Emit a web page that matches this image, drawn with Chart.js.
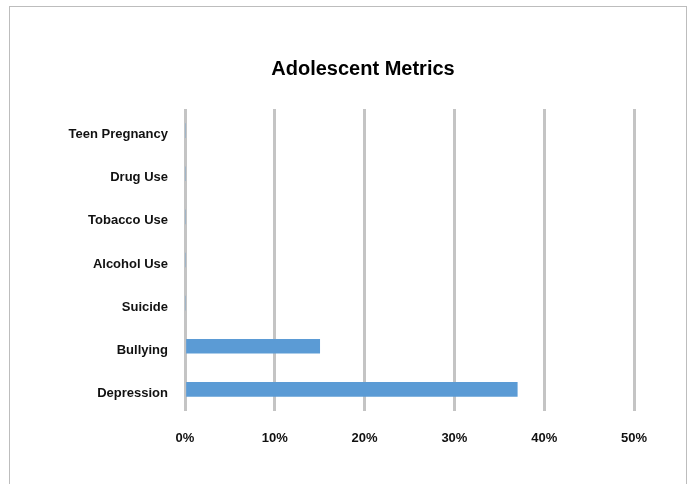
<!DOCTYPE html>
<html>
<head>
<meta charset="utf-8">
<script src="https://cdn.jsdelivr.net/npm/chart.js@4/dist/chart.umd.min.js"></script>
<style>
  html, body { margin: 0; padding: 0; background: #fff; overflow: hidden; }
  #box {
    position: absolute; left: 9px; top: 6px;
    width: 676px; height: 480px;
    border: 1px solid #bdbdbd;
  }
</style>
</head>
<body>
<div id="box"><canvas id="c" width="676" height="480"></canvas></div>
<script>
  var categories = ['Teen Pregnancy', 'Drug Use', 'Tobacco Use', 'Alcohol Use', 'Suicide', 'Bullying', 'Depression'];
  var values = [0, 0, 0, 0, 0, 15, 37];
  var xTicks = [0, 10, 20, 30, 40, 50];

  var font = 'Liberation Sans, Arial, sans-serif';

  // the original title sits a bit right of the canvas centre
  var titleShift = {
    id: 'titleShift',
    afterLayout: function(chart) {
      var t = chart.titleBlock;
      if (t) { t.left = 30; t.right = 676; }
    }
  };

  new Chart(document.getElementById('c').getContext('2d'), {
    type: 'bar',
    data: {
      labels: categories,
      datasets: [{
        data: values,
        backgroundColor: '#5b9bd5',
        borderSkipped: false,
        barThickness: 14
      }]
    },
    options: {
      indexAxis: 'y',
      responsive: false,
      animation: false,
      devicePixelRatio: 1,
      layout: { padding: { left: 0, right: 52, top: 0, bottom: 0 } },
      plugins: {
        legend: { display: false },
        tooltip: { enabled: false },
        title: {
          display: true,
          text: 'Adolescent Metrics',
          color: '#000',
          font: { family: font, size: 20, weight: 'bold' },
          padding: { top: 50, bottom: 28 }
        }
      },
      scales: {
        x: {
          min: 0,
          max: 50,
          afterBuildTicks: function(axis) {
            axis.ticks = xTicks.map(function(v) { return { value: v }; });
          },
          afterFit: function(axis) { axis.height = 76; },
          grid: { color: '#c4c4c4', lineWidth: 3, drawTicks: false },
          border: { display: false },
          ticks: {
            padding: 20,
            color: '#111',
            font: { family: font, size: 13, weight: 'bold' },
            callback: function(v) { return v + '%'; }
          }
        },
        y: {
          afterFit: function(axis) { axis.width = 175; },
          grid: { display: false },
          border: { display: false },
          ticks: {
            padding: 9,
            labelOffset: 4,
            color: '#111',
            font: { family: font, size: 13, weight: 'bold' }
          }
        }
      }
    },
    plugins: [titleShift]
  });
</script>
</body>
</html>
